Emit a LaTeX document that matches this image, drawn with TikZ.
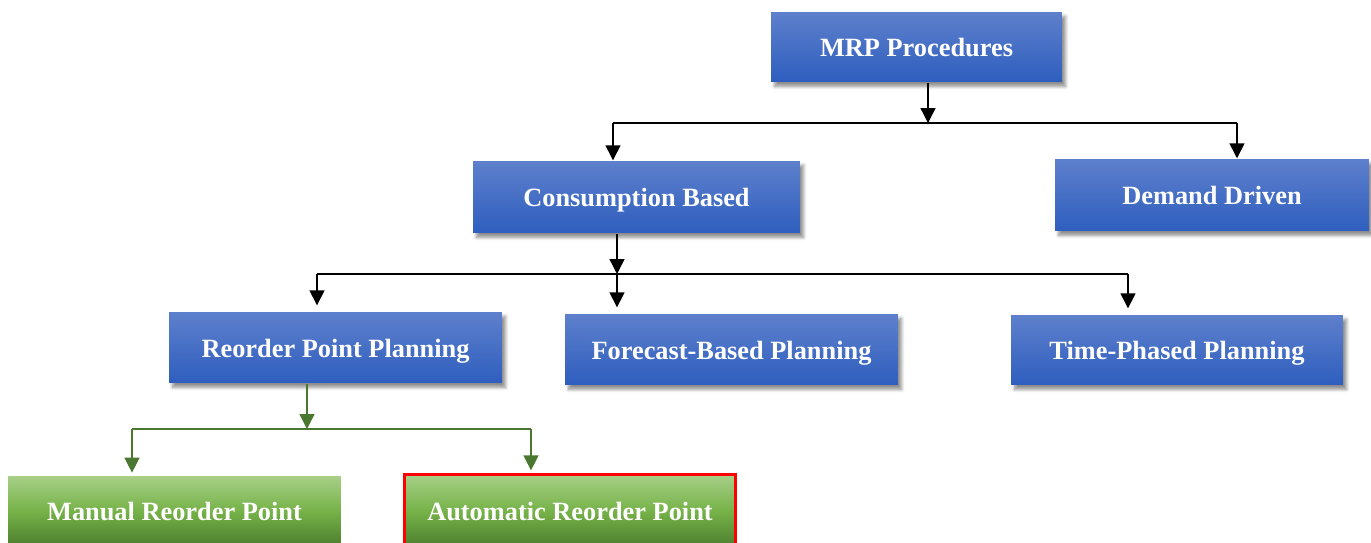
\documentclass[tikz,border=0pt]{standalone}
\usepackage{fontspec}
\setmainfont{Liberation Serif}
\usetikzlibrary{arrows.meta,shadows.blur}

\definecolor{boxtop}{RGB}{94,128,204}
\definecolor{boxbottom}{RGB}{46,94,190}
\definecolor{leaftop}{RGB}{168,208,136}
\definecolor{leafmid}{RGB}{118,178,72}
\definecolor{leafbottom}{RGB}{76,126,46}
\definecolor{leafline}{RGB}{74,120,48}

\begin{document}
\begin{tikzpicture}[x=0.02cm, y=-0.02cm, >={Triangle[length=8.5pt,width=8.5pt]}, line width=0.8pt]
    \tikzstyle{proc}=[rectangle, minimum height=1.42cm, inner sep=0pt,
        text height=13.5pt, text depth=2.5pt,
        font=\fontsize{15}{18}\selectfont\bfseries, text=white]
    \tikzstyle{blue proc}=[proc, top color=boxtop, bottom color=boxbottom,
        blur shadow={shadow xshift=2pt, shadow yshift=-2.5pt, shadow blur steps=6, shadow opacity=45}]
    \tikzstyle{green proc}=[proc, top color=leaftop, bottom color=leafbottom, middle color=leafmid]
    \tikzstyle{link}=[->, draw=black]
    \tikzstyle{green link}=[->, draw=leafline]

    \useasboundingbox (0,0) rectangle (1371,543);

    % top level
    \node[blue proc, minimum width=5.82cm, minimum height=1.40cm] (mrp) at (916.5,47) {MRP Procedures};

    % second level
    \node[blue proc, minimum width=6.54cm, minimum height=1.44cm] (cons) at (636.5,197) {Consumption Based};
    \node[blue proc, minimum width=6.28cm, minimum height=1.44cm] (dem) at (1212,195) {Demand Driven};

    % planning types
    \node[blue proc, minimum width=6.66cm] (rpp) at (335.5,347.5) {Reorder Point Planning};
    \node[blue proc, minimum width=6.66cm] (fbp) at (731.5,349.5) {Forecast-Based Planning};
    \node[blue proc, minimum width=6.64cm, minimum height=1.40cm] (tpp) at (1177,350) {Time-Phased Planning};

    % reorder point variants
    \node[green proc, minimum width=6.66cm, minimum height=1.40cm] (man) at (174.5,511) {Manual Reorder Point};
    \node[green proc, draw=red, line width=1.7pt, minimum width=6.62cm, minimum height=1.46cm] (auto) at (570,511) {Automatic Reorder Point};

    % junctions on the branch bars
    \coordinate (mrp-j) at (928,123);
    \coordinate (mrp-l) at (613,123);
    \coordinate (mrp-r) at (1237,123);
    \coordinate (cons-j) at (617,274);
    \coordinate (cons-l) at (317,274);
    \coordinate (cons-r) at (1128,274);
    \coordinate (rpp-j) at (307,429);
    \coordinate (rpp-l) at (132,429);
    \coordinate (rpp-r) at (531,429);

    \draw[link] (mrp.south -| mrp-j) -- (mrp-j);
    \draw (mrp-l) -- (mrp-r);
    \draw[link] (mrp-l) -- (mrp-l |- cons.north);
    \draw[link] (mrp-r) -- (mrp-r |- dem.north);

    \draw[link] (cons.south -| cons-j) -- (cons-j);
    \draw (cons-l) -- (cons-r);
    \foreach \from/\to in {cons-l/rpp, cons-j/fbp, cons-r/tpp}
        \draw[link, shorten >=3.4pt] (\from) -- (\from |- \to.north);

    \draw[green link] (rpp.south -| rpp-j) -- (rpp-j);
    \draw[draw=leafline] (rpp-l) -- (rpp-r);
    \draw[green link, shorten >=1.5pt] (rpp-l) -- (rpp-l |- man.north);
    \draw[green link, shorten >=1.5pt] (rpp-r) -- (rpp-r |- auto.north);
\end{tikzpicture}
\end{document}
